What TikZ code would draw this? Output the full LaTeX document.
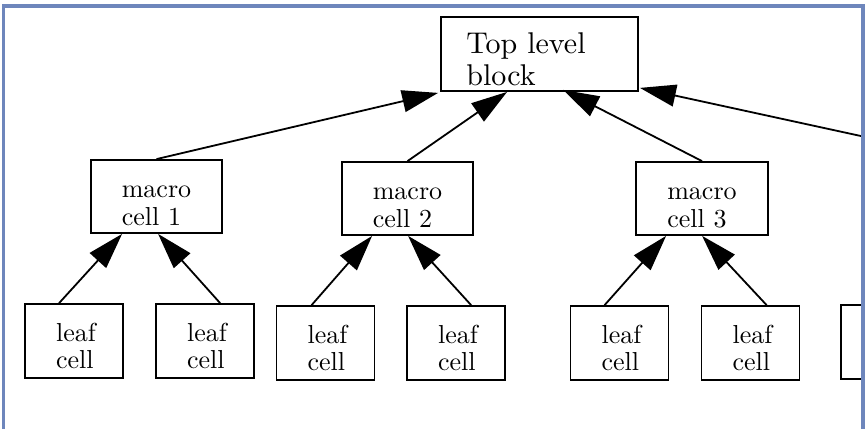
\documentclass[tikz,border=0pt]{standalone}
\usepackage{fontspec}
\setmainfont{lmroman10-regular}[Extension=.otf]
\usetikzlibrary{arrows.meta,calc}
\definecolor{framecol}{HTML}{6E86BC}
\begin{document}
\begin{tikzpicture}[x=1pt,y=-1pt,
  box/.style={draw, line width=1.8pt, inner sep=0pt, align=left, text depth=0pt},
  topbox/.style={box, minimum width=197pt, minimum height=74pt, text height=62pt, font=\fontsize{30}{32}\selectfont},
  macrobox/.style={box, minimum width=131pt, minimum height=73pt, text height=57pt, font=\fontsize{26}{28}\selectfont},
  leafbox/.style={box, minimum width=98pt, minimum height=74pt, text height=54pt, font=\fontsize{26}{27}\selectfont},
  arr/.style={-{Triangle[length=36pt,width=22pt]}, line width=1.8pt}]
\useasboundingbox (0,0) rectangle (866,428);
\begin{scope}
\clip (5,8) rectangle (861,428);
\node[topbox] (top) at (539.5,54) {Top level\rule{27pt}{0pt}\\block};
\node[macrobox] (m1) at (156.5,196.5) {macro\\cell 1};
\node[macrobox] (m2) at (407.5,198.5) {macro\\cell 2};
\node[macrobox, minimum width=132pt] (m3) at (702,198.5) {macro\\cell 3};
\node[leafbox] (l1) at (74,341) {\hspace{4pt}leaf\\\hspace{4pt}cell};
\node[leafbox] (l2) at (205,341) {\hspace{4pt}leaf\\\hspace{4pt}cell};
\node[leafbox] (l3) at (325.5,343) {\hspace{4pt}leaf\\\hspace{4pt}cell};
\node[leafbox] (l4) at (456,343) {\hspace{4pt}leaf\\\hspace{4pt}cell};
\node[leafbox] (l5) at (619.5,343) {\hspace{4pt}leaf\\\hspace{4pt}cell};
\node[leafbox] (l6) at (750.5,343) {\hspace{4pt}leaf\\\hspace{4pt}cell};
\node[leafbox] (l7) at (890,342) {};
\coordinate (offright) at (870,138);
\draw[arr] (m1.north) -- ($(top.south west)+(-2,1)$);
\draw[arr] (m2.north) -- ($(top.south west)+(67,0)$);
\draw[arr] (m3.north) -- ($(top.south west)+(123,-2)$);
\draw[arr] (offright) -- ($(top.south east)+(1,-4)$);
\draw[arr] ($(l1.north west)+(35,0)$) -- ($(m1.south west)+(32,0)$);
\draw[arr] ($(l2.north west)+(65,0)$) -- ($(m1.south west)+(68,0)$);
\draw[arr] ($(l3.north west)+(36,0)$) -- ($(m2.south west)+(31,0)$);
\draw[arr] ($(l4.north west)+(65,0)$) -- ($(m2.south west)+(67,0)$);
\draw[arr] ($(l5.north west)+(35,0)$) -- ($(m3.south west)+(31,0)$);
\draw[arr] ($(l6.north west)+(66,0)$) -- ($(m3.south west)+(67,0)$);
\end{scope}
\draw[framecol, line width=3.5pt] (3.5,430) -- (3.5,6) -- (863,6) -- (863,430);
\end{tikzpicture}
\end{document}
